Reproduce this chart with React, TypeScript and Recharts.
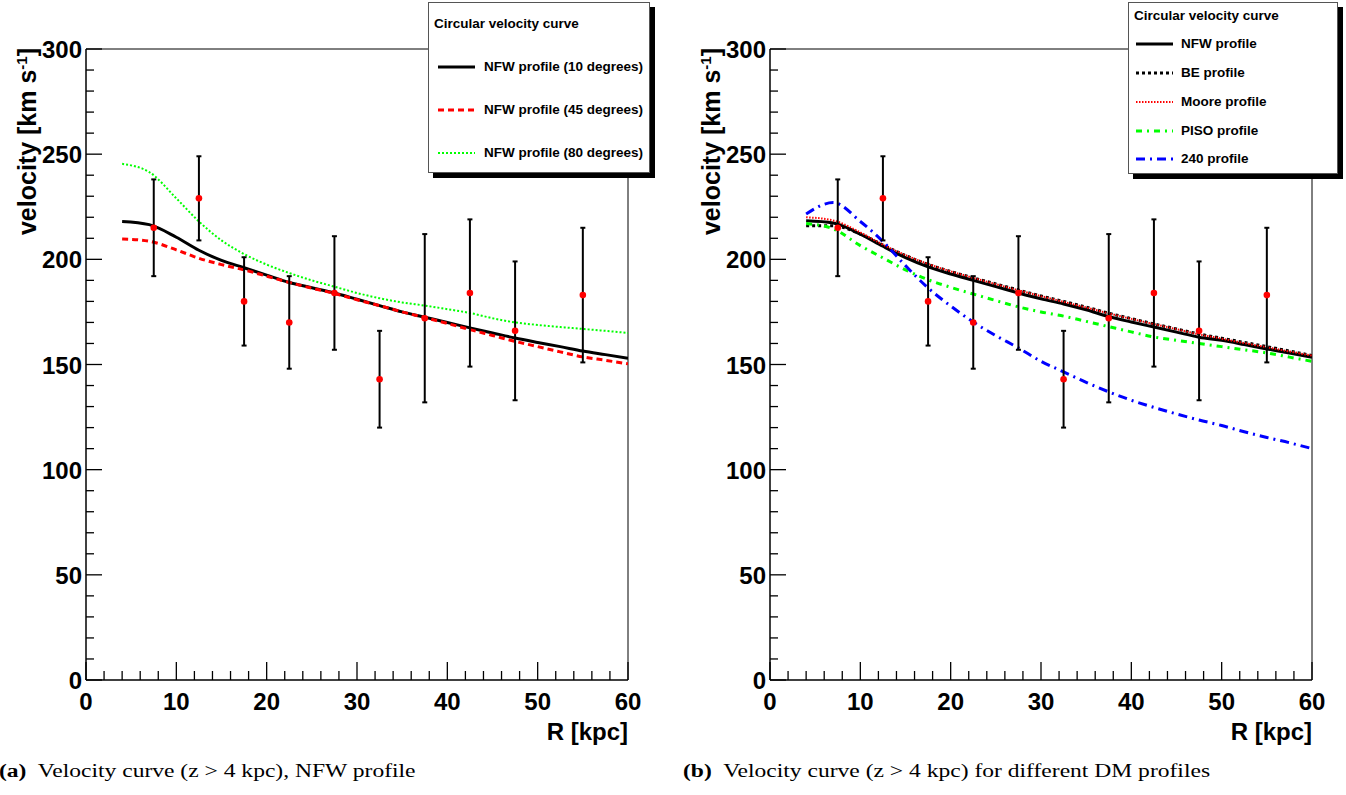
import React from 'react';
import { ComposedChart, Line, Scatter, XAxis, YAxis, ErrorBar, ReferenceLine } from 'recharts';

const SANS = '"Liberation Sans", Arial, Helvetica, sans-serif';
const SERIF = '"Liberation Serif", "Times New Roman", Times, serif';

// ---- measured data points (same in both panels) ----
const radiusPoints = [7.5, 12.5, 17.5, 22.5, 27.5, 32.5, 37.5, 42.5, 47.5, 55];
const velocityPoints = [215, 229, 180, 170, 184, 143, 172, 184, 166, 183];
const velocityErrors = [23, 20, 21, 22, 27, 23, 40, 35, 33, 32];

// ---- model curves, sampled radii ----
const curveRadii = [4, 7, 10, 12.5, 15, 17.5, 20, 22.5, 25, 27.5, 30, 32.5, 35, 37.5, 40, 42.5, 45, 47.5, 50, 52.5, 55, 57.5, 60];

// panel (a)
const nfw10deg = [218, 216.5, 210.5, 204.3, 199.5, 196, 192.5, 189, 186.5, 184, 181, 178, 175, 172.5, 170, 167.4, 165, 162.6, 160.5, 158.5, 156.4, 154.7, 153];
const nfw45deg = [209.7, 208.6, 204.5, 200.5, 197.5, 195, 192, 189, 186.3, 183.8, 180.8, 178, 175, 172.3, 169.5, 166.6, 163.8, 161, 158.5, 156, 153.6, 152, 150.3];
const nfw80deg = [245.4, 241.5, 229, 218, 209, 202.5, 197.5, 193.5, 190, 187, 184, 181.5, 179.5, 178, 176.3, 174.5, 172, 170, 168.8, 167.8, 166.9, 166, 165];

// panel (b)
const nfwProfile = [218.3, 217.3, 212, 206.2, 200.8, 196.4, 193, 190, 187, 184, 181.2, 178.8, 176, 172.8, 170.2, 167.8, 165.4, 163, 161.5, 159.5, 157.4, 155.5, 153.4];
const beProfile = [216, 216, 212, 206.8, 201.8, 197.6, 194.2, 191.2, 188.3, 185.4, 182.6, 180, 177.3, 174.4, 171.8, 169.3, 166.9, 164.5, 162.5, 160.5, 158.5, 156.4, 154.3];
const mooreProfile = [220, 218.5, 212.8, 207, 202, 197.8, 194.3, 191.2, 188.2, 185.3, 182.5, 179.8, 177.1, 174.3, 171.7, 169.2, 166.8, 164.3, 162.3, 160.2, 158.2, 156.2, 154.2];
const pisoProfile = [217, 214.5, 206.5, 200.7, 195, 190.3, 186.7, 183.5, 180.4, 177.4, 175, 173, 170.5, 168, 165.5, 163.1, 161.5, 160, 158.5, 157, 155.5, 153.5, 151.5];
const profile240 = [221.6, 227, 218, 208.5, 197, 186.4, 177.8, 170.2, 163.7, 157.9, 151.5, 146.5, 141.5, 137, 133, 129.6, 126.5, 123.6, 121, 118, 115.3, 112.8, 110];

// ---- ticks ----
const xTicks = [0, 2, 4, 6, 8, 10, 12, 14, 16, 18, 20, 22, 24, 26, 28, 30, 32, 34, 36, 38, 40, 42, 44, 46, 48, 50, 52, 54, 56, 58, 60];
const xTickLabels = [0, 10, 20, 30, 40, 50, 60];
const yTicks = [0, 10, 20, 30, 40, 50, 60, 70, 80, 90, 100, 110, 120, 130, 140, 150, 160, 170, 180, 190, 200, 210, 220, 230, 240, 250, 260, 270, 280, 290, 300];
const yTickLabels = [0, 50, 100, 150, 200, 250, 300];

// ---- text ----
const legendTitle = 'Circular velocity curve';
const leftLegendLabels = ['NFW profile (10 degrees)', 'NFW profile (45 degrees)', 'NFW profile (80 degrees)'];
const rightLegendLabels = ['NFW profile', 'BE profile', 'Moore profile', 'PISO profile', '240 profile'];
const captionA = ['(a)', 'Velocity curve (z > 4 kpc), NFW profile'];
const captionB = ['(b)', 'Velocity curve (z > 4 kpc) for different DM profiles'];

// ---- build series ----
const toSeries = (xs: number[], ys: number[]) => xs.map((x, i) => ({ x, y: ys[i] }));
const measured = radiusPoints.map((x, i) => ({ x, y: velocityPoints[i], err: velocityErrors[i] }));

type Style = { stroke: string; width: number; dash?: string };
const S_NFW: Style = { stroke: '#000000', width: 3 };
const S_45: Style = { stroke: '#ff0000', width: 3, dash: '6 4' };
const S_80: Style = { stroke: '#00ff00', width: 2, dash: '2 2' };
const S_BE: Style = { stroke: '#000000', width: 3, dash: '3 3' };
const S_MOORE: Style = { stroke: '#ff0000', width: 2, dash: '1.5 1.5' };
const S_PISO: Style = { stroke: '#00ff00', width: 3, dash: '6 5 2 5' };
const S_240: Style = { stroke: '#0000ff', width: 3, dash: '9 5 2 5' };

const leftCurves = [
  { name: leftLegendLabels[0], values: nfw10deg, style: S_NFW },
  { name: leftLegendLabels[1], values: nfw45deg, style: S_45 },
  { name: leftLegendLabels[2], values: nfw80deg, style: S_80 },
];
const rightCurves = [
  { name: rightLegendLabels[0], values: nfwProfile, style: S_NFW },
  { name: rightLegendLabels[1], values: beProfile, style: S_BE },
  { name: rightLegendLabels[2], values: mooreProfile, style: S_MOORE },
  { name: rightLegendLabels[3], values: pisoProfile, style: S_PISO },
  { name: rightLegendLabels[4], values: profile240, style: S_240 },
];

// ---- layout ----
const CHART_W = 680;
const CHART_H = 795;
const MARGIN = { top: 49, right: 52, left: 26, bottom: 75 };

const XTick = (props: any) => {
  const { x, y, payload } = props;
  const v = payload.value;
  const major = xTickLabels.includes(v);
  return (
    <g>
      <line x1={x} y1={y} x2={x} y2={y - (major ? 18 : 9)} stroke="#000" strokeWidth={1.3} />
      {major && (
        <text x={x} y={y + 30} textAnchor="middle" fontSize={24} fontWeight="bold" fontFamily={SANS} fill="#000">
          {v}
        </text>
      )}
    </g>
  );
};

const YTick = (props: any) => {
  const { x, y, payload } = props;
  const v = payload.value;
  const major = yTickLabels.includes(v);
  return (
    <g>
      <line x1={x} y1={y} x2={x + (major ? 16 : 8)} y2={y} stroke="#000" strokeWidth={1.3} />
      {major && (
        <text x={x - 4} y={y + 9} textAnchor="end" fontSize={24} fontWeight="bold" fontFamily={SANS} fill="#000">
          {v}
        </text>
      )}
    </g>
  );
};

const YTitle = (props: any) => {
  const vb = props.viewBox || {};
  const bx = (vb.x ?? 26) + (vb.width ?? 60) - 50;
  const by = (vb.y ?? 49) - 1;
  return (
    <text
      x={bx}
      y={by}
      transform={`rotate(-90 ${bx} ${by})`}
      textAnchor="end"
      fontSize={25}
      fontWeight="bold"
      fontFamily={SANS}
      fill="#000"
    >
      velocity [km s<tspan dy={-9} fontSize={15}>-1</tspan>
      <tspan dy={9} fontSize={25}>]</tspan>
    </text>
  );
};

const XTitle = (props: any) => {
  const vb = props.viewBox || {};
  const rx = (vb.x ?? 86) + (vb.width ?? 542);
  const by = (vb.y ?? 680) + 60;
  return (
    <text x={rx} y={by} textAnchor="end" fontSize={24} fontWeight="bold" fontFamily={SANS} fill="#000">
      R [kpc]
    </text>
  );
};

const RedDot = (props: any) => {
  const { cx, cy } = props;
  if (cx == null || cy == null) return null;
  return <circle cx={cx} cy={cy} r={3.3} fill="#ff0000" />;
};

function Panel({ curves }: { curves: { name: string; values: number[]; style: Style }[] }) {
  return (
    <ComposedChart width={CHART_W} height={CHART_H} margin={MARGIN}>
      <XAxis
        type="number"
        dataKey="x"
        domain={[0, 60]}
        ticks={xTicks}
        interval={0}
        allowDataOverflow
        height={40}
        tickSize={0}
        tickMargin={0}
        tickLine={false}
        axisLine={{ stroke: '#000', strokeWidth: 1.5 }}
        tick={<XTick />}
        label={<XTitle />}
      />
      <YAxis
        type="number"
        dataKey="y"
        domain={[0, 300]}
        ticks={yTicks}
        interval={0}
        allowDataOverflow
        width={60}
        tickSize={0}
        tickMargin={0}
        tickLine={false}
        axisLine={{ stroke: '#000', strokeWidth: 1.5 }}
        tick={<YTick />}
        label={<YTitle />}
      />
      <ReferenceLine y={300} stroke="#000" strokeWidth={1} />
      <ReferenceLine x={60} stroke="#000" strokeWidth={1} />
      {curves.map((c) => (
        <Line
          key={c.name}
          name={c.name}
          data={toSeries(curveRadii, c.values)}
          dataKey="y"
          type="monotone"
          stroke={c.style.stroke}
          strokeWidth={c.style.width}
          strokeDasharray={c.style.dash}
          dot={false}
          activeDot={false}
          isAnimationActive={false}
        />
      ))}
      <Scatter data={measured} dataKey="y" fill="#ff0000" shape={<RedDot />} isAnimationActive={false}>
        <ErrorBar dataKey="err" direction="y" width={2.5} strokeWidth={2} stroke="#000" isAnimationActive={false} />
      </Scatter>
    </ComposedChart>
  );
}

function LegendBox({
  left,
  top,
  width,
  height,
  titleLeft,
  titleCy,
  lineX1,
  lineX2,
  textX,
  rows,
}: {
  left: number;
  top: number;
  width: number;
  height: number;
  titleLeft: number;
  titleCy: number;
  lineX1: number;
  lineX2: number;
  textX: number;
  rows: { label: string; style: Style; cy: number }[];
}) {
  return (
    <div
      style={{
        position: 'absolute',
        left,
        top,
        width,
        height,
        background: '#fff',
        border: '1px solid #555',
        boxShadow: '5px 5px 0 #000',
        boxSizing: 'border-box',
        fontFamily: SANS,
        fontWeight: 'bold',
        fontSize: 13.5,
        color: '#000',
      }}
    >
      <div style={{ position: 'absolute', left: titleLeft, top: titleCy - 8, lineHeight: '16px', whiteSpace: 'nowrap' }}>
        {legendTitle}
      </div>
      {rows.map((r) => (
        <React.Fragment key={r.label}>
          <svg style={{ position: 'absolute', left: 0, top: r.cy - 3 }} width={lineX2 + 2} height={6}>
            <line
              x1={lineX1}
              y1={3}
              x2={lineX2}
              y2={3}
              stroke={r.style.stroke}
              strokeWidth={r.style.width}
              strokeDasharray={r.style.dash}
            />
          </svg>
          <div style={{ position: 'absolute', left: textX, top: r.cy - 8, lineHeight: '16px', whiteSpace: 'nowrap' }}>
            {r.label}
          </div>
        </React.Fragment>
      ))}
    </div>
  );
}

const leftRowsCy = [64, 107, 150];
const rightRowsCy = [41, 70, 99, 128, 156];

function Caption({ x, parts }: { x: number; parts: string[] }) {
  return (
    <text
      x={0}
      y={0}
      transform={`translate(${x} 777) scale(1.24 1)`}
      fontFamily={SERIF}
      fontSize={19}
      fill="#000"
      xmlSpace="preserve"
    >
      <tspan fontWeight="bold">{parts[0]}</tspan>
      <tspan>{'\u00a0 ' + parts[1]}</tspan>
    </text>
  );
}

export default function App() {
  return (
    <div style={{ position: 'absolute', left: 0, top: 0, width: 1346, height: 795, background: '#fff', overflow: 'hidden' }}>
      <div style={{ position: 'absolute', left: 0, top: 0 }}>
        <Panel curves={leftCurves} />
      </div>
      <div style={{ position: 'absolute', left: 684, top: 0 }}>
        <Panel curves={rightCurves} />
      </div>
      <LegendBox
        left={428}
        top={2}
        width={222}
        height={171}
        titleLeft={5}
        titleCy={21}
        lineX1={9}
        lineX2={46}
        textX={55}
        rows={leftCurves.map((c, i) => ({ label: c.name, style: c.style, cy: leftRowsCy[i] }))}
      />
      <LegendBox
        left={1128}
        top={2}
        width={210}
        height={172}
        titleLeft={5}
        titleCy={13}
        lineX1={7}
        lineX2={44}
        textX={52}
        rows={rightCurves.map((c, i) => ({ label: c.name, style: c.style, cy: rightRowsCy[i] }))}
      />
      <svg style={{ position: 'absolute', left: 0, top: 0, pointerEvents: 'none' }} width={1346} height={795}>
        <Caption x={-1} parts={captionA} />
        <Caption x={683} parts={captionB} />
      </svg>
    </div>
  );
}
